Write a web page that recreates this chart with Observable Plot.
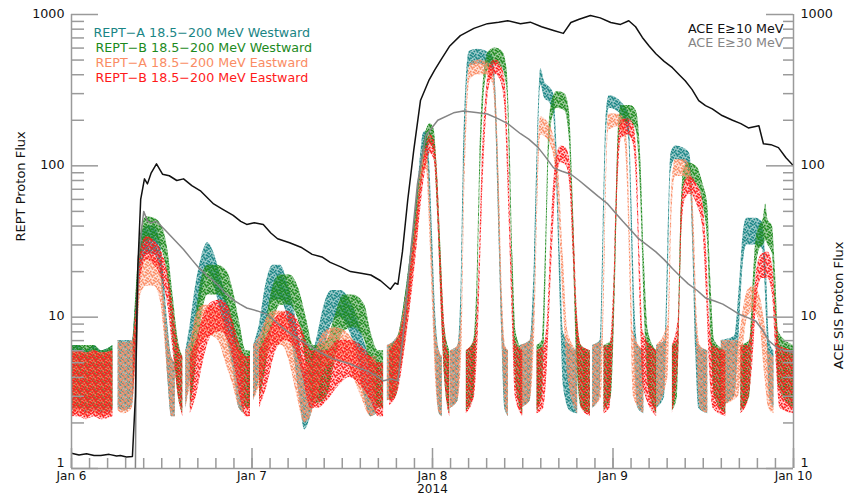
<!DOCTYPE html>
<html>
<head>
<meta charset="utf-8">
<script src="https://cdn.jsdelivr.net/npm/d3@7"></script>
<script src="https://cdn.jsdelivr.net/npm/@observablehq/plot@0.6"></script>
<style>
  html, body { margin: 0; padding: 0; background: #fff; }
  #chart { width: 852px; height: 497px; }
</style>
</head>
<body>
<div id="chart"></div>
<script>
// ---- Data (hours since 2014-01-06 00:00 UT) ----
// REPT series: [hour, low, high] envelope of the scattered points; null = data gap
const reptA_West = [
[0,2.4,6.5],[1,2.5,6.5],[2,2.3,6],[3,2.4,6.5],[4,2.3,6],[5.5,2.4,6.5],[5.8,null,null],
[6.2,2.5,7],[7,2.4,7],[8.1,2.6,7],[8.6,6,14],[9.2,20,32],[10,26,40],[11,26,40],[11.8,20,32],[12.3,10,18],[12.8,4,9],[13.3,2.2,5.5],[13.8,2.2,5],[14.5,null,null],
[15.2,2.5,6],[15.8,4,9],[16.5,8,16],[17.3,14,25],[18.1,20,31],[19,16,26],[19.8,11,19],[20.7,7,13],[21.5,4.5,9],[22.3,2.5,6],[23,2.3,5.5],[23.6,null,null],
[24.2,2.8,6.5],[25,4,9],[25.8,8,16],[26.8,13,22],[27.8,13,22],[28.7,10,17],[29.5,6,12],[30.3,3,7],[31,1.8,4.5],[31.8,2.2,5],[32.7,3.5,7.5],[33.6,6,12],[34.6,9,15],[35.8,10,15],[37,8,13],[38,5.5,10],[38.9,3,7],[39.8,2.2,5.5],[40.6,2.3,5.5],[41.3,null,null],
[42,2.8,6.5],[43,3,7],[43.6,4,8],[44.3,7,13],[45,14,24],[45.7,30,48],[46.3,65,100],[46.8,120,165],[47.2,125,170],[47.6,60,110],[48,18,35],[48.4,5,11],[48.9,2.3,6],[49.3,2.2,5.5],[49.8,null,null],
[50.4,2.5,6],[51.4,2.8,6.5],[51.8,8,16],[52.1,50,100],[52.5,250,380],[52.9,450,570],[54,470,590],[55.2,460,570],[56,420,530],[56.4,200,330],[56.8,40,90],[57.2,8,16],[57.6,2.5,6.5],[58.1,2.2,6],[58.8,null,null],
[59.7,2.5,6.5],[61,2.8,7],[61.5,10,20],[62,100,170],[62.4,340,440],[62.9,280,360],[63.6,260,330],[64.1,220,300],[64.5,80,150],[65,12,25],[65.4,3.5,8],[66.3,2.4,6.5],[67.3,2.3,6],[68.2,null,null],
[69.3,2.5,6.5],[70.3,3,7],[70.7,20,40],[71.1,150,220],[71.5,240,290],[72.5,230,280],[73.5,200,250],[74.1,150,220],[74.5,30,60],[74.9,5,12],[75.3,2.5,6.5],[76.1,2.3,6],[77,null,null],
[77.8,2.5,6.5],[78.9,3,7],[79.3,15,30],[79.7,90,120],[80.3,110,135],[81.5,105,130],[82.2,90,120],[82.6,30,60],[83,6,12],[83.4,2.5,6.5],[84.6,2.3,6],[85.5,null,null],
[86.4,2.6,7],[88.2,3,7.5],[88.8,8,16],[89.3,22,35],[89.8,30,45],[91,30,45],[91.9,28,42],[92.4,10,20],[92.8,3,7],[93.4,2.5,6]
];
const reptB_West = [
[0,2.5,6.5],[1,2.5,6.5],[2,2.4,6.5],[3,2.5,6.5],[4,2.4,6],[5.5,2.5,6.5],[5.8,null,null],
[8.2,3,7],[8.6,7,15],[9.2,24,36],[10,32,46],[11,32,45],[12,28,40],[12.8,18,28],[13.5,7,14],[14.2,3,7],[14.8,2.3,5.5],[15.3,null,null],
[15.8,2.5,6],[16.4,4,9],[17.2,9,17],[18.1,14,22],[19.4,14,22],[20.7,12,20],[21.5,8,15],[22.4,4.5,9],[23.2,2.5,6],[23.8,2.5,6],[24.4,null,null],
[25,2.8,6.5],[25.8,4.5,9],[26.8,9,16],[27.8,12,19],[29,12,19],[30.3,9,15],[31.2,5,10],[32.2,2.7,6.5],[32.8,2.7,6.5],[34,3,7],[35,5,10],[36.2,8,14],[37.5,8.5,14],[39,7,12],[39.8,4,8],[40.8,2.5,6],[41.5,2.5,6],[41.9,null,null],
[42.3,2.8,6.5],[43.2,3,7],[43.6,4,8],[44.3,7,13],[45,14,24],[45.7,30,48],[46.4,65,95],[47.1,120,165],[47.7,140,190],[48.2,125,175],[48.6,60,100],[49.1,15,30],[49.6,4,9],[50.3,2.3,6],[50.9,null,null],
[52.5,2.4,6],[53.5,3,7],[53.9,8,16],[54.3,60,110],[54.8,260,380],[55.4,430,560],[56.3,470,600],[57.3,440,570],[57.9,320,440],[58.3,80,150],[58.7,12,25],[59.1,3.5,8],[60,2.3,6],[60.8,null,null],
[61.9,2.4,6.5],[62.6,3,7],[63,12,25],[63.4,80,140],[63.9,200,270],[64.6,240,310],[65.6,230,300],[66.2,150,230],[66.7,30,60],[67.2,5,11],[67.8,2.5,6.5],[69,2.3,6],[69.8,null,null],
[70.8,2.4,6.5],[71.8,3,7],[72.3,15,30],[72.7,100,170],[73.1,190,250],[74.3,195,250],[75.1,170,230],[75.7,60,110],[76.2,10,22],[76.7,3.5,8],[77.8,2.3,6],[78.8,null,null],
[79.9,2.4,6.5],[80.6,3,7],[81,20,40],[81.4,70,95],[82,82,105],[83.2,75,98],[84,55,75],[84.6,30,55],[85,8,18],[85.5,3,7],[87,2.3,6],[88,null,null],
[89,2.4,6.5],[90.2,3,7],[90.6,8,16],[91,20,32],[91.5,28,40],[92,30,45],[92.3,32,56],[92.6,30,44],[93.2,26,40],[93.6,10,20],[94,3.5,8],[96,2.5,6.5]
];
const reptA_East = [
[0,2.2,6],[1,2.3,6],[2,2.2,5.8],[3,2.3,6],[4,2.2,5.8],[5.5,2.3,6],[5.8,null,null],
[6.2,2.4,7],[7,2.3,6.8],[8.1,2.5,7],[8.6,5,10],[9.2,14,22],[10,16,25],[11,16,25],[11.8,13,21],[12.3,8,14],[12.8,4,8],[13.3,2.2,5.5],[13.8,2.2,5],[14.5,null,null],
[15.2,2.5,6],[15.8,3.5,7],[16.5,5,10],[17.5,7,12],[18.5,7.5,12],[19.5,7,11.5],[20.5,5,9],[21.5,3.5,7],[22.3,2.5,6],[23,2.3,5.5],[23.6,null,null],
[24.2,2.8,6.5],[25,3.5,7.5],[26,5.5,10],[27,6.5,11],[28,6.5,11],[29,5,9],[30,3,7],[31,2,5],[31.8,2.2,5],[32.7,3,6.5],[33.6,4.5,8],[35,5,8.5],[36.5,5,8],[37.5,4,7],[38.5,3,6],[39.8,2.2,5.5],[40.6,2.3,5.5],[41.3,null,null],
[42,2.8,6.5],[43,3,7],[43.6,4,8],[44.3,6,12],[45,12,22],[45.7,25,40],[46.3,50,80],[46.8,90,125],[47.2,95,130],[47.6,40,80],[48,12,25],[48.4,4,9],[48.9,2.3,6],[49.3,2.2,5.5],[49.8,null,null],
[50.4,2.5,6],[51.4,2.8,6.5],[51.9,6,12],[52.2,40,80],[52.6,200,300],[53,370,470],[54,400,500],[55.2,400,490],[56,350,450],[56.5,150,260],[56.9,30,70],[57.3,6,14],[57.7,2.5,6.5],[58.1,2.2,6],[58.8,null,null],
[59.7,2.5,6.5],[61,2.8,7],[61.6,8,15],[62.1,80,140],[62.4,160,210],[63.3,150,195],[64.2,110,150],[64.8,50,90],[65.4,12,25],[66,4,8],[67.3,2.3,6],[68.2,null,null],
[69.3,2.5,6.5],[70.5,3,7],[71,30,60],[71.4,170,220],[72.5,180,220],[73.4,160,210],[73.9,80,140],[74.3,15,35],[74.7,3,8],[76.1,2.3,6],[77,null,null],
[77.8,2.5,6.5],[79.3,4,9],[79.8,40,70],[80.3,85,110],[81.5,85,110],[82.3,70,95],[82.8,20,40],[83.2,5,10],[83.6,2.5,6.5],[84.6,2.3,6],[85.5,null,null],
[86.4,2.6,7],[88.7,3,7],[89.3,6,11],[89.9,10,15],[90.7,11,16],[91.5,9,14],[92.2,4,9],[92.7,2.5,6],[93.4,2.3,5.5]
];
const reptB_East = [
[0,2.2,6],[1,2.2,6],[2,2.1,5.8],[3,2.2,6],[4,2.1,5.8],[5.5,2.2,6],[5.8,null,null],
[8.2,2.8,6.5],[8.6,6,12],[9.2,18,28],[10,24,34],[11,22,32],[12,18,27],[12.8,12,20],[13.5,6,12],[14.2,3,6.5],[14.8,2.2,5.5],[15.3,null,null],
[15.8,2.3,5.5],[16.6,3,7],[17.5,5,10],[18.6,7.5,12.5],[19.8,8,13],[20.8,7,12],[21.6,5,9],[22.4,3,6.5],[23.2,2.2,5.5],[23.8,2.2,5.5],[24.4,null,null],
[25,2.5,6],[26,3.5,7.5],[27.2,6,10],[28.5,7,11],[29.8,6,10],[30.8,4,8],[31.8,2.5,6],[32.8,2.5,6],[34,2.8,6],[35.5,3.5,7],[37,4,7],[38.5,3.5,6.5],[39.8,2.8,5.5],[40.8,2.2,5],[41.5,2.2,5],[41.9,null,null],
[42.3,2.6,6],[43.2,3,7],[43.6,3.5,7.5],[44.3,6,11],[45,11,20],[45.7,22,38],[46.4,50,75],[47.1,95,130],[47.7,120,160],[48.2,110,150],[48.7,45,85],[49.2,10,22],[49.7,3.5,8],[50.3,2.2,5.5],[50.9,null,null],
[52.5,2.3,6],[53.6,3,7],[54.1,8,16],[54.6,50,100],[55.2,220,330],[55.8,370,480],[56.4,400,500],[57,370,470],[57.6,250,380],[58.1,60,120],[58.6,10,20],[59,3,7],[60,2.2,6],[60.8,null,null],
[61.9,2.3,6],[62.8,2.5,6.5],[63.3,5,10],[63.9,25,50],[64.5,80,115],[65.1,105,135],[65.8,100,130],[66.3,70,105],[66.8,20,40],[67.3,5,10],[67.8,2.5,6.5],[69,2.2,6],[69.8,null,null],
[70.8,2.3,6.5],[71.6,2.5,6.5],[72.1,8,16],[72.6,60,110],[73.1,150,200],[74,160,205],[74.7,140,190],[75.2,60,110],[75.6,12,25],[76,3.5,8],[77.8,2.2,6],[78.8,null,null],
[79.9,2.3,6.5],[80.7,5,10],[81.1,30,55],[81.6,60,80],[82.3,65,85],[83.2,55,75],[83.9,40,60],[84.4,15,30],[84.9,4,9],[85.3,2.5,6.5],[87,2.2,6],[88,null,null],
[89,2.3,6.5],[90,2.8,6.5],[90.6,5,10],[91.2,14,22],[91.8,18,26],[92.6,18,27],[93.2,14,22],[93.7,5,11],[94.2,2.5,6.5],[96,2.3,6]
];
// ACE SIS integral fluxes: [hour, flux]
const aceE10 = [
[0,1.26],[1,1.23],[2,1.25],[3,1.22],[3.9,1.22],[5,1.24],[6,1.21],[6.5,1.22],[7.3,1.19],[8.1,1.2],[8.5,3],[8.8,20],[9.2,60],[9.7,82],[10.1,76],[10.6,90],[11.3,103],[12.1,88],[13,86],[14,80],[14.9,82],[16,74],[17.2,68],[18,62],[18.9,56],[20,52],[21.5,47],[22.5,43],[23.3,41],[24.3,42],[25.5,41],[26.5,36],[27.4,33],[29,31],[30.5,29],[32,26],[33.3,25],[34.4,23],[35.8,21.5],[37.1,20],[38.5,19.5],[39.8,19],[41.1,17.4],[42.4,15.3],[43,16.8],[43.4,16.5],[44,27],[44.7,59],[45.5,126],[46.4,270],[47.5,365],[48.3,430],[49.1,500],[50.3,620],[51.7,725],[53.5,810],[55.3,870],[56.8,890],[58,910],[59.7,870],[61,890],[62.5,830],[64.1,785],[65.4,750],[66.4,885],[67.5,930],[69,985],[70.3,950],[71.7,885],[73,860],[74.1,910],[75,830],[75.9,705],[76.8,620],[77.7,550],[78.8,490],[79.9,445],[80.8,400],[81.6,365],[82.5,320],[83.4,270],[84.3,250],[85.2,238],[86.5,215],[87.9,200],[89,190],[90,178],[91.4,184],[92,140],[93,138],[94,132],[95,113],[96,100]
];
const aceE30 = [
[8.5,1],[8.6,5],[8.9,25],[9.6,50],[10.1,43],[10.6,42],[11.3,43],[12.6,37],[13.8,32],[14.9,28],[16,24],[17,21],[18.2,18.5],[19.3,16.6],[20.4,14.5],[21.5,13],[22.4,12.2],[23.3,11.5],[24.7,11],[26.1,10.4],[27.2,9.3],[28.2,8.4],[29.4,7.6],[30.5,7],[31.6,6.5],[32.7,6],[33.8,5.6],[34.8,5.3],[36,5.1],[37.1,4.9],[38.3,4.6],[39.4,4.4],[40.5,4.1],[41.5,3.8],[42.5,3.9],[43.4,3.8],[44.1,7.7],[45.1,27],[46,76],[47.1,158],[48.7,200],[50.8,224],[52.1,230],[53.8,225],[55.3,220],[56.7,205],[58,190],[59.7,163],[60.8,150],[62,133],[63,115],[64.1,97],[65.2,92],[66.4,88],[67.5,80],[68.6,72],[70,63],[71.3,56],[72.3,49],[73.3,43],[74.3,38],[75.4,33],[76.5,30],[77.7,27],[78.8,24],[79.9,21],[81,18.5],[82,16.6],[83.2,15],[84.3,13.4],[85.5,12.8],[86.6,12.2],[87.7,11.3],[88.7,10.5],[90,9.9],[91,9.4],[91.9,8.2],[92.7,7],[93.3,6.6],[94,6.2],[95,6],[96,5.8]
];
const seriesNames = ["REPT\u2212A 18.5\u2212200 MeV Westward","REPT\u2212B 18.5\u2212200 MeV Westward","REPT\u2212A 18.5\u2212200 MeV Eastward","REPT\u2212B 18.5\u2212200 MeV Eastward"];
const seriesColors = ["#1a8585","#1d8a1d","#fa8c64","#ff1a1a"];
const aceNames = ["ACE E\u226510 MeV","ACE E\u226530 MeV"];
const aceColors = ["#111111","#858585"];
const dayLabels = ["Jan 6","Jan 7","Jan 8","Jan 9","Jan 10"];
const yearLabel = "2014";
const yMajor = [1,10,100,1000];

// ---- Helpers ----
const T0 = Date.UTC(2014,0,6);
const toDate = h => new Date(T0 + h*3600e3);
const days = dayLabels.map((_, i) => toDate(24*i));
const xMinor = d3.range(0, 41).map(k => toDate(k*2.4));
const yMinor = [];
for (const dec of [1,10,100]) for (let m = 2; m <= 9; m++) yMinor.push(dec*m);

const W = 852, H = 497, ML = 71, MR = 59, MT = 14, MB = 29;
const PW = W - ML - MR, PH = H - MT - MB;
const axisColor = "#9a9a9a";
const fontSize = 12.7;

// speckle texture (fixed irregular dot layout in an 8px tile) to mimic dense scatter points
const speckDots = [[0,0],[3.2,0.6],[6.1,1.4],[1.5,2.6],[4.7,3.1],[7.2,4.2],[0.4,5.0],[2.9,5.7],[5.6,6.3],[1.8,7.1],[4.1,1.7],[6.6,6.9]];
const speckShift = [[0,0],[1,3],[3,1],[2,5]];
const speckBg = [0.4, 0.4, 0.18, 0.18];
const defsMark = () => {
  const defs = d3.create("svg:defs");
  seriesColors.forEach((c, i) => {
    const p = defs.append("pattern").attr("id", "speck" + i)
      .attr("patternUnits", "userSpaceOnUse").attr("width", 8).attr("height", 8);
    p.append("rect").attr("width", 8).attr("height", 8).attr("fill", c).attr("fill-opacity", speckBg[i]);
    for (const [x, y] of speckDots) {
      for (const [ox, oy] of [[0,0],[-8,0],[0,-8],[-8,-8]]) {
        p.append("rect")
          .attr("x", ((x + speckShift[i][0]) % 8) + ox).attr("y", ((y + speckShift[i][1]) % 8) + oy)
          .attr("width", 1.7).attr("height", 1.7).attr("fill", c);
      }
    }
  });
  return defs.node();
};

const band = (arr, i) => Plot.areaY(arr, {
  x: d => toDate(d[0]),
  y1: d => d[1] == null ? NaN : d[1],
  y2: d => d[2] == null ? NaN : d[2],
  fill: `url(#speck${i})`, curve: "monotone-x", clip: true
});

const legendMarks = seriesNames.map((name, i) =>
  Plot.text([name], {text: d => d, frameAnchor: "top-left", textAnchor: "start",
    dx: i === 0 ? 22 : 24, dy: 13.3 + 15 * i, fill: seriesColors[i], fontSize: fontSize}));
const aceLegendMarks = aceNames.map((name, i) =>
  Plot.text([name], {text: d => d, frameAnchor: "top-right", textAnchor: "end",
    dx: -10, dy: 9.3 + 14 * i, fill: aceColors[i], fontSize: fontSize}));

const yUpper = yMajor.filter(d => d > 1);
const yBottom = yMajor.filter(d => d === 1);

const chart = Plot.plot({
  width: W, height: H,
  marginLeft: ML, marginRight: MR, marginTop: MT, marginBottom: MB,
  style: {fontFamily: "DejaVu Sans, sans-serif", fontSize: fontSize + "px", background: "#fff", color: "#111"},
  x: {type: "utc", domain: [toDate(0), toDate(96)], axis: null},
  y: {type: "log", domain: [1, 1000], axis: null},
  marks: [
    defsMark,
    band(reptA_West, 0),
    band(reptB_West, 1),
    band(reptA_East, 2),
    band(reptB_East, 3),
    Plot.line(aceE30, {x: d => toDate(d[0]), y: d => d[1], stroke: aceColors[1], strokeWidth: 1.5, clip: true}),
    Plot.line(aceE10, {x: d => toDate(d[0]), y: d => d[1], stroke: aceColors[0], strokeWidth: 1.5, clip: true}),
    // axis lines
    Plot.ruleX([toDate(0), toDate(96)], {stroke: axisColor, strokeWidth: 1.5}),
    Plot.ruleY([1], {stroke: axisColor, strokeWidth: 1.5}),
    // y ticks (inward)
    Plot.ruleY(yMajor, {y: d => d, insetRight: PW - 27, stroke: axisColor, strokeWidth: 1.5}),
    Plot.ruleY(yMinor, {y: d => d, insetRight: PW - 13, stroke: axisColor, strokeWidth: 1.5}),
    Plot.ruleY(yMajor, {y: d => d, insetLeft: PW - 27, stroke: axisColor, strokeWidth: 1.5}),
    Plot.ruleY(yMinor, {y: d => d, insetLeft: PW - 10, stroke: axisColor, strokeWidth: 1.5}),
    // x ticks (inward)
    Plot.ruleX(days, {x: d => d, insetTop: PH - 20, stroke: axisColor, strokeWidth: 1.5}),
    Plot.ruleX(xMinor, {x: d => d, insetTop: PH - 10, stroke: axisColor, strokeWidth: 1.5}),
    // tick labels
    Plot.text(yUpper, {y: d => d, text: d => String(d), frameAnchor: "left", textAnchor: "end", dx: -7, dy: -1, fill: "#111"}),
    Plot.text(yUpper, {y: d => d, text: d => String(d), frameAnchor: "right", textAnchor: "start", dx: 7, dy: -1, fill: "#111"}),
    Plot.text(yBottom, {y: d => d, text: d => String(d), frameAnchor: "left", textAnchor: "end", dx: -7, dy: -6, fill: "#111"}),
    Plot.text(yBottom, {y: d => d, text: d => String(d), frameAnchor: "right", textAnchor: "start", dx: 7, dy: -6, fill: "#111"}),
    Plot.text(days, {x: d => d, text: (d, i) => dayLabels[i], frameAnchor: "bottom", dy: 11, fontSize: 12, fill: "#111"}),
    Plot.text([yearLabel], {x: () => days[2], text: d => d, frameAnchor: "bottom", dy: 24.5, fontSize: 12, fill: "#111"}),
    // axis titles
    Plot.text(["REPT Proton Flux"], {text: d => d, frameAnchor: "left", dx: -51, rotate: -90, fontSize: 13, fill: "#111"}),
    Plot.text(["ACE SIS Proton Flux"], {text: d => d, frameAnchor: "right", dx: 45, rotate: -90, fontSize: 13, fill: "#111"}),
    ...legendMarks,
    ...aceLegendMarks
  ]
});

document.getElementById("chart").appendChild(chart);
</script>
</body>
</html>
